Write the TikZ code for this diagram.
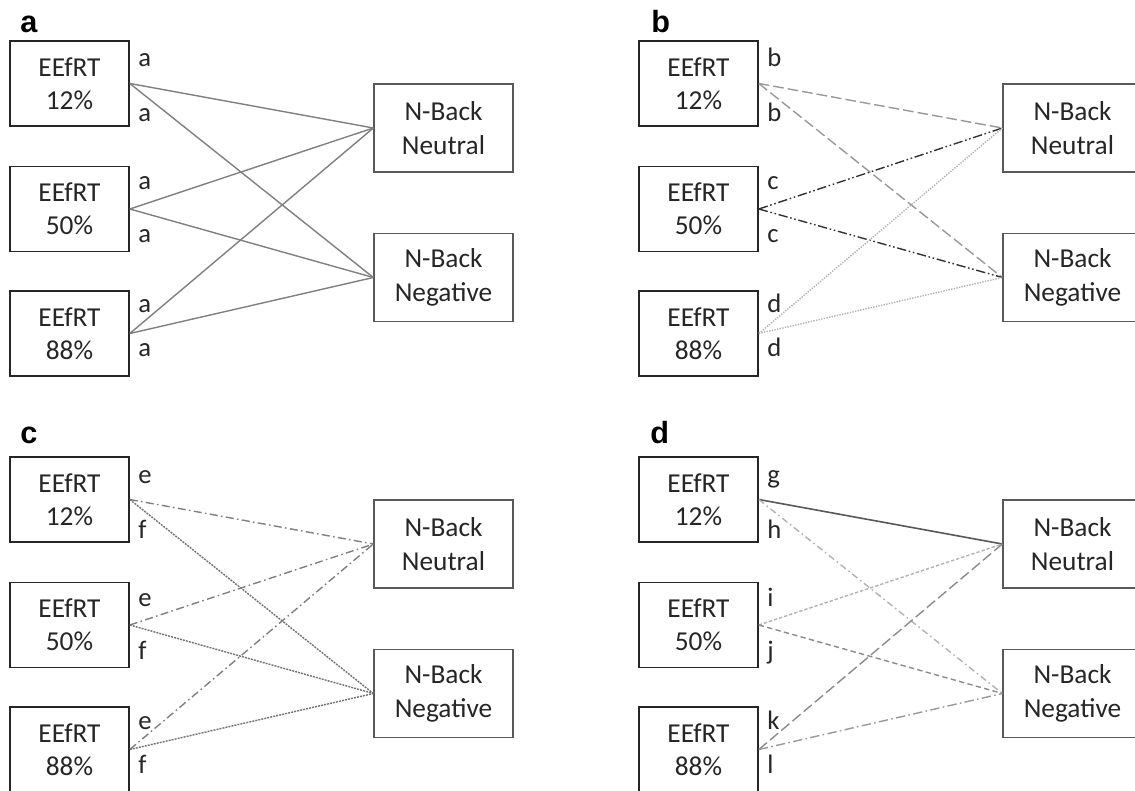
\documentclass[tikz,border=0pt]{standalone}
\usepackage{fontspec}
\setmainfont{Carlito}
\newfontfamily\panelfont{Liberation Sans}
\newcommand{\mkpanel}[3]{%
  \begin{scope}[shift={(#2,#3)}]
    \node[ebox] (#1e1) at (69.5,83.5) {EEfRT\\12\%};
    \node[ebox] (#1e2) at (69.5,209) {EEfRT\\50\%};
    \node[ebox] (#1e3) at (69.5,333.5) {EEfRT\\88\%};
    \node[nbox] (#1n) at (443.5,128) {N-Back\\Neutral};
    \node[nbox] (#1g) at (443.5,277.5) {N-Back\\Negative};
  \end{scope}}
\newcommand{\mklabels}[9]{%
  \begin{scope}[shift={(#2,#3)}]
    \node[lab] (#1l1) at (138,67) {#4};
    \node[lab] (#1l2) at (138,122) {#5};
    \node[lab] (#1l3) at (138,190) {#6};
    \node[lab] (#1l4) at (138,243) {#7};
    \node[lab] (#1l5) at (138,313) {#8};
    \node[lab] (#1l6) at (138,357) {#9};
  \end{scope}}
\begin{document}
\begin{tikzpicture}[x=0.75pt,y=-0.75pt,
  ebox/.style={draw=black!85, line width=1.2pt, minimum width=89.25pt, minimum height=63.75pt,
    inner sep=0pt, align=center, text=black!85, font=\fontsize{20.5}{25}\selectfont},
  nbox/.style={draw=black!65, line width=1pt, minimum width=104.25pt, minimum height=66pt,
    inner sep=0pt, align=center, text=black!85, font=\fontsize{20.5}{25}\selectfont},
  lab/.style={anchor=base west, inner sep=0pt, text=black!85, font=\fontsize{20}{20}\selectfont},
  plab/.style={anchor=base west, inner sep=0pt, text=black, font=\panelfont\bfseries\fontsize{23}{23}\selectfont},
  conn/.style={line width=1.05pt},
  sa/.style={conn, draw=black!50},
  bdash/.style={conn, draw=black!40, dash pattern=on 8pt off 3pt},
  bdd/.style={conn, draw=black!80, dash pattern=on 7pt off 2pt on 1.2pt off 2pt on 1.2pt off 2pt},
  bdot/.style={conn, draw=black!30, dash pattern=on 1pt off 1pt},
  cdd/.style={conn, draw=black!50, dash pattern=on 6pt off 2.5pt on 1.2pt off 2.5pt},
  cdot/.style={conn, draw=black!55, dash pattern=on 1.5pt off 0.8pt},
  dg/.style={conn, draw=black!65, line width=1.2pt},
  dh/.style={conn, draw=black!30, dash pattern=on 5pt off 2.5pt on 1.2pt off 2.5pt},
  di/.style={conn, draw=black!30, dash pattern=on 2.5pt off 1.5pt},
  dj/.style={conn, draw=black!45, dash pattern=on 4pt off 2.5pt},
  dk/.style={conn, draw=black!45, dash pattern=on 8pt off 3pt},
  dl/.style={conn, draw=black!40, dash pattern=on 7pt off 2.5pt on 1.2pt off 2.5pt}]
\useasboundingbox (0,0) rectangle (1135,791);
\fill[white] (0,0) rectangle (1135,791);

% panel letters
\node[plab] (pa) at (20,33) {a};
\node[plab] (pb) at (651,33) {b};
\node[plab] (pc) at (20,443) {c};
\node[plab] (pd) at (650,443) {d};

% boxes
\mkpanel{a}{0}{0}
\mkpanel{b}{629}{0}
\mkpanel{c}{0}{416}
\mkpanel{d}{629}{416}

% path labels
\mklabels{a}{0}{0}{a}{a}{a}{a}{a}{a}
\mklabels{b}{629}{0}{b}{b}{c}{c}{d}{d}
\mklabels{c}{0}{416}{e}{f}{e}{f}{e}{f}
\mklabels{d}{629}{416}{g}{h}{i}{j}{k}{l}

% panel a
\draw[sa] (ae1.east) -- (an.west);
\draw[sa] (ae1.east) -- (ag.west);
\draw[sa] (ae2.east) -- (an.west);
\draw[sa] (ae2.east) -- (ag.west);
\draw[sa] (ae3.east) -- (an.west);
\draw[sa] (ae3.east) -- (ag.west);

% panel b
\draw[bdash] (be1.east) -- (bn.west);
\draw[bdash] (be1.east) -- (bg.west);
\draw[bdd] (be2.east) -- (bn.west);
\draw[bdd] (be2.east) -- (bg.west);
\draw[bdot] (be3.east) -- (bn.west);
\draw[bdot] (be3.east) -- (bg.west);

% panel c
\draw[cdd] (ce1.east) -- (cn.west);
\draw[cdot] (ce1.east) -- (cg.west);
\draw[cdd] (ce2.east) -- (cn.west);
\draw[cdot] (ce2.east) -- (cg.west);
\draw[cdd] (ce3.east) -- (cn.west);
\draw[cdot] (ce3.east) -- (cg.west);

% panel d
\draw[dg] (de1.east) -- (dn.west);
\draw[dh] (de1.east) -- (dg.west);
\draw[di] (de2.east) -- (dn.west);
\draw[dj] (de2.east) -- (dg.west);
\draw[dk] (de3.east) -- (dn.west);
\draw[dl] (de3.east) -- (dg.west);
\end{tikzpicture}
\end{document}
